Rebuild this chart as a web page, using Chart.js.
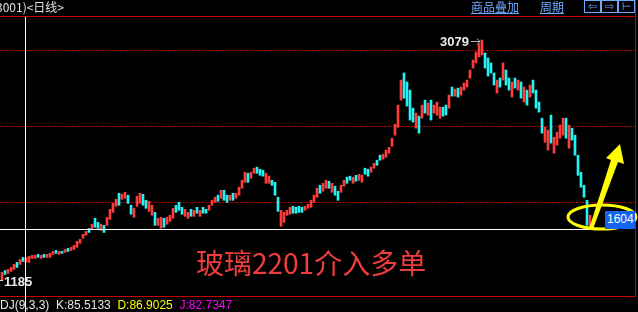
<!DOCTYPE html>
<html>
<head>
<meta charset="utf-8">
<script src="https://cdn.jsdelivr.net/npm/chart.js@4/dist/chart.umd.min.js"></script>
<style>
  html, body { margin: 0; padding: 0; background: #000; width: 638px; height: 312px; overflow: hidden; }
  #wrap { position: relative; width: 638px; height: 312px; }
  #kline { position: absolute; left: 0; top: 0; }
  .t { position: absolute; white-space: nowrap; line-height: 1; }
  .cjk { font-family: "Noto Sans CJK SC", sans-serif; }
  .num { font-family: "Liberation Sans", Arial, sans-serif; }
  .link { color: #6ea8ff; text-decoration: underline; font-size: 12px; top: 1px; }
  .btn { position: absolute; top: 0; width: 15px; height: 11px; border: 1px solid #6ea8ff;
         color: #6ea8ff; font: 11px "DejaVu Sans", sans-serif; line-height: 11px; text-align: center; }
  #pxbox { position: absolute; background: #1464f0; color: #fff; font: 12px "Liberation Sans", Arial, sans-serif;
           line-height: 17px; padding-left: 2px; box-sizing: border-box; }
</style>
</head>
<body>
<div id="wrap">
  <canvas id="kline" width="638" height="312"></canvas>
  <div class="t cjk" style="left:-4px;top:1px;font-size:12px;color:#e0e0e0;">3001)&lt;日线&gt;</div>
  <div class="t cjk link" style="left:471px;">商品叠加</div>
  <div class="t cjk link" style="left:540px;">周期</div>
  <div class="btn" style="left:584px;">⇦</div>
  <div class="btn" style="left:601px;">⇨</div>
  <div class="btn" style="left:618px;">⊢</div>
  <div class="t cjk" style="left:196px;top:248px;font-size:28px;color:#f03c3c;">玻璃2201介入多单</div>
  <div class="t num" style="left:0;top:299px;font-size:12px;">
    <span style="color:#e6e6e6;">DJ(9,3,3)&nbsp; K:85.5133</span>
    <span style="color:#ffff00;">&nbsp;D:86.9025</span>
    <span style="color:#ff00ff;">&nbsp;J:82.7347</span>
  </div>
  <div id="hiLabel" class="t num" style="font-size:13px;font-weight:bold;color:#ececec;"></div>
  <div id="loLabel" class="t num" style="font-size:13px;font-weight:bold;color:#ececec;"></div>
  <div id="pxbox"></div>
</div>
<script>
// grid levels (dotted red lines)
const gridPrices = [1800, 2400, 3000];

// daily candles (body only)
const opens = [
  1185, 1263, 1240, 1256, 1271, 1327, 1311, 1366, 1327, 1327,
  1358, 1358, 1390, 1358, 1390, 1366, 1366, 1390, 1421, 1390,
  1413, 1406, 1437, 1421, 1429, 1445, 1477, 1516, 1540, 1595,
  1587, 1674, 1642, 1579, 1619, 1619, 1666, 1721, 1769, 1871,
  1824, 1832, 1856, 1777, 1682, 1769, 1792, 1863, 1816, 1729,
  1698, 1721, 1619, 1595, 1674, 1627, 1650, 1674, 1777, 1800,
  1761, 1690, 1674, 1745, 1690, 1761, 1690, 1761, 1745, 1737,
  1777, 1800, 1856, 1832, 1895, 1856, 1816, 1871, 1832, 1856,
  1911, 1958, 2029, 1990, 2029, 2077, 2061, 2053, 1950, 1950,
  1974, 1958, 1840, 1611, 1642, 1698, 1706, 1769, 1761, 1769,
  1761, 1737, 1753, 1761, 1800, 1840, 1934, 1887, 1911, 1966,
  1879, 1927, 1887, 1879, 1927, 1998, 2006, 1950, 2013, 1974,
  1958, 2069, 2061, 2037, 2069, 2132, 2171, 2140, 2155, 2187,
  2242, 2329, 2392, 2605, 2819, 2748, 2684, 2542, 2384, 2479,
  2463, 2605, 2487, 2605, 2503, 2487, 2463, 2550, 2566, 2542,
  2708, 2637, 2700, 2645, 2684, 2708, 2779, 2858, 2898, 2945,
  2961, 2977, 2937, 2898, 2819, 2661, 2779, 2763, 2842, 2779,
  2629, 2779, 2684, 2748, 2590, 2684, 2629, 2763, 2684, 2590,
  2463, 2274, 2211, 2487, 2187, 2250, 2305, 2329, 2463, 2226,
  2384, 2329, 2171, 2037, 1934, 1816, 1595
];
const closes = [
  1248, 1232, 1271, 1287, 1311, 1287, 1350, 1334, 1366, 1374,
  1382, 1382, 1366, 1382, 1366, 1390, 1398, 1413, 1398, 1413,
  1398, 1429, 1413, 1445, 1461, 1492, 1508, 1548, 1571, 1563,
  1627, 1603, 1595, 1627, 1563, 1682, 1745, 1792, 1824, 1777,
  1863, 1879, 1792, 1706, 1753, 1848, 1871, 1777, 1753, 1808,
  1777, 1619, 1674, 1682, 1603, 1682, 1698, 1753, 1721, 1737,
  1706, 1745, 1721, 1690, 1737, 1714, 1737, 1714, 1714, 1777,
  1816, 1840, 1808, 1895, 1816, 1800, 1856, 1816, 1871, 1919,
  1974, 2037, 1958, 2037, 2069, 2029, 2013, 2006, 2029, 2006,
  1934, 1856, 1729, 1737, 1721, 1737, 1761, 1714, 1714, 1721,
  1721, 1769, 1785, 1816, 1856, 1911, 1871, 1950, 1974, 1911,
  1950, 1856, 1816, 1934, 1974, 1950, 1974, 1998, 1966, 2021,
  2013, 2021, 2006, 2077, 2108, 2092, 2132, 2179, 2211, 2234,
  2305, 2416, 2566, 2763, 2621, 2558, 2448, 2432, 2503, 2345,
  2566, 2503, 2582, 2448, 2566, 2590, 2550, 2479, 2487, 2645,
  2637, 2692, 2629, 2708, 2740, 2763, 2842, 2921, 2984, 3048,
  3079, 2858, 2795, 2819, 2724, 2763, 2708, 2898, 2724, 2684,
  2748, 2700, 2763, 2621, 2708, 2566, 2724, 2661, 2542, 2511,
  2345, 2392, 2369, 2266, 2313, 2353, 2408, 2463, 2305, 2408,
  2290, 2171, 2013, 1919, 1840, 1619, 1698
];

// crosshair position and the value shown in its box
const crossIndex = 7.7;
const crossPrice = 1590;
const crossLabel = '1604';

const upColor = '#ff3c3c';
const downColor = '#22f2f2';

const candles = opens.map((o, i) => ({ x: i, y: [o, closes[i]] }));
const candleColors = opens.map((o, i) => closes[i] >= o ? upColor : downColor);

const all = opens.concat(closes);
const hiVal = Math.max(...all);
const loVal = Math.min(...all);
const hiIdx = Math.max(opens.indexOf(hiVal), closes.indexOf(hiVal));
const loIdx = Math.max(opens.indexOf(loVal), closes.indexOf(loVal));

// frame, crosshair, peak arrow and the yellow marks
const overlay = {
  id: 'overlay',
  afterDraw(chart) {
    const { ctx, chartArea: a, scales: { x, y } } = chart;
    ctx.save();
    ctx.fillStyle = '#c80000';
    ctx.fillRect(0, a.top, a.right, 1);
    ctx.fillRect(0, a.bottom, a.right, 1);
    ctx.fillRect(a.right, 0, 1, a.bottom + 1);

    const cx = Math.round(x.getPixelForValue(crossIndex));
    const cy = Math.round(y.getPixelForValue(crossPrice));
    ctx.fillStyle = '#ffffff';
    ctx.fillRect(cx, a.top + 1, 1, chart.height - a.top);
    ctx.fillRect(0, cy, 604, 1);

    // arrow to the top
    const hx = Math.round(x.getPixelForValue(hiIdx));
    const hy = Math.round(y.getPixelForValue(hiVal)) + 1;
    ctx.strokeStyle = '#bbbbbb';
    ctx.lineWidth = 1;
    ctx.beginPath();
    ctx.moveTo(hx - 11, hy + 0.5);
    ctx.lineTo(hx - 2, hy + 0.5);
    ctx.moveTo(hx - 5, hy - 2.5);
    ctx.lineTo(hx - 2, hy + 0.5);
    ctx.lineTo(hx - 5, hy + 3.5);
    ctx.stroke();

    // dash at the low
    const lx = Math.round(x.getPixelForValue(loIdx));
    const ly = Math.round(y.getPixelForValue(loVal));
    ctx.fillStyle = '#dddddd';
    ctx.fillRect(0, ly, lx + 1, 1);

    // yellow ellipse and arrow at the last bar
    const last = opens.length - 1;
    const ex = x.getPixelForValue(last) + 12;
    ctx.strokeStyle = '#ffff00';
    ctx.lineWidth = 3;
    ctx.beginPath();
    ctx.ellipse(ex, cy - 12, 34, 12, 0, 0, Math.PI * 2);
    ctx.stroke();

    const bx = ex - 12;
    ctx.fillStyle = '#ffff00';
    ctx.beginPath();
    ctx.moveTo(bx - 1, cy);
    ctx.lineTo(bx + 21, cy - 69);
    ctx.lineTo(bx + 16, cy - 71);
    ctx.lineTo(bx + 30, cy - 85);
    ctx.lineTo(bx + 34, cy - 65);
    ctx.lineTo(bx + 28, cy - 67);
    ctx.lineTo(bx + 3, cy);
    ctx.closePath();
    ctx.fill();
    ctx.restore();
  }
};

const chart = new Chart(document.getElementById('kline'), {
  type: 'bar',
  data: {
    datasets: [{
      data: candles,
      backgroundColor: candleColors,
      borderWidth: 0,
      borderSkipped: false,
      barThickness: 2,
      minBarLength: 1
    }]
  },
  options: {
    responsive: false,
    animation: false,
    devicePixelRatio: 1,
    events: [],
    layout: { padding: { left: 0, right: 3, top: 16, bottom: 16 } },
    plugins: { legend: { display: false }, tooltip: { enabled: false } },
    scales: {
      x: { type: 'linear', min: -0.667, max: 211, offset: false, display: false },
      y: {
        min: 1062,
        max: 3268,
        afterBuildTicks: scale => { scale.ticks = gridPrices.map(v => ({ value: v })); },
        ticks: { display: false },
        grid: { color: '#b00000', lineWidth: 1, drawTicks: false },
        border: { display: false, dash: [2, 1] }
      }
    }
  },
  plugins: [overlay]
});

// text labels, placed with the chart's scales
(function placeLabels() {
  const { x, y } = chart.scales;
  const hi = document.getElementById('hiLabel');
  hi.textContent = String(hiVal);
  hi.style.left = (x.getPixelForValue(hiIdx) - 13) + 'px';
  hi.style.top = (y.getPixelForValue(hiVal) + 1) + 'px';
  hi.style.transform = 'translate(-100%, -50%)';

  const lo = document.getElementById('loLabel');
  lo.textContent = String(loVal);
  lo.style.left = (x.getPixelForValue(loIdx) + 2) + 'px';
  lo.style.top = (y.getPixelForValue(loVal) + 1) + 'px';
  lo.style.transform = 'translateY(-50%)';

  const box = document.getElementById('pxbox');
  const cy = Math.round(y.getPixelForValue(crossPrice));
  box.textContent = crossLabel;
  box.style.left = '605px';
  box.style.top = (cy - 18) + 'px';
  box.style.width = '30px';
  box.style.height = '18px';
})();
</script>
</body>
</html>
